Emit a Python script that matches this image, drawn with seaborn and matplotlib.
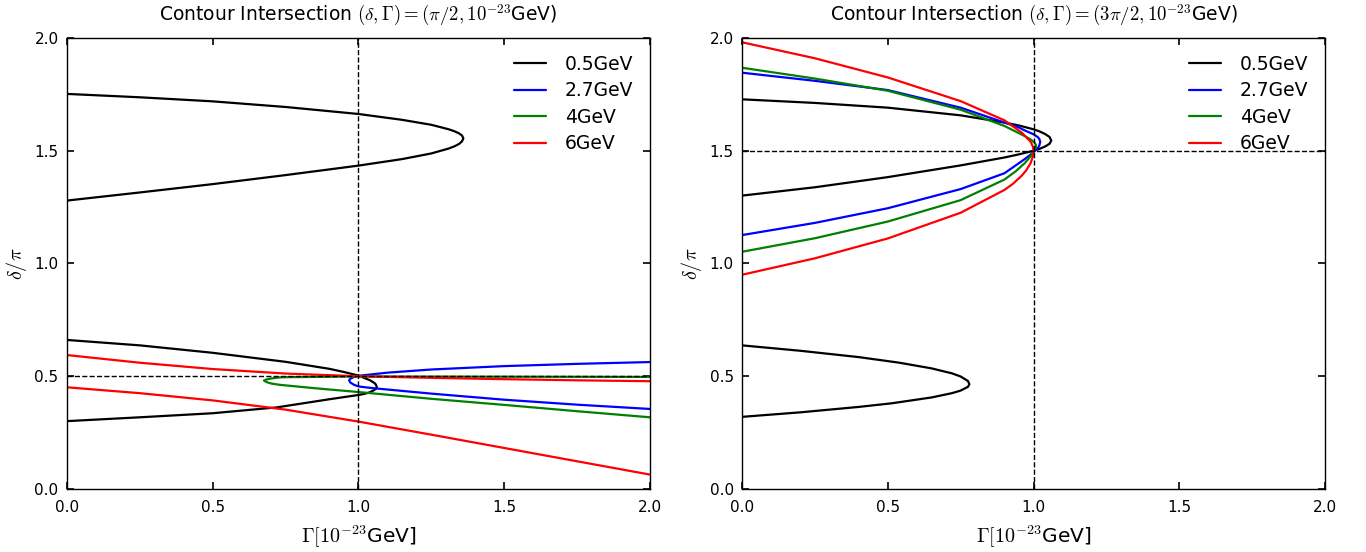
"""
Contour intersection plots (two panels)
"""
import matplotlib
matplotlib.use('Agg')
import matplotlib.pyplot as plt
import seaborn as sns

# ---- data ----
energies = ['0.5GeV', '2.7GeV', '4GeV', '6GeV']
colors = ['black', 'blue', 'green', 'red']

# left panel: (delta, Gamma) = (pi/2, 1e-23 GeV)
l_black_a_x = [0, 0.25, 0.5, 0.75, 1.0, 1.15, 1.25, 1.31, 1.33, 1.345, 1.355, 1.36,
               1.355, 1.345, 1.33, 1.31, 1.25, 1.15, 1.0, 0.75, 0.5, 0.25, 0]
l_black_a_y = [1.752, 1.737, 1.719, 1.694, 1.663, 1.637, 1.615, 1.595, 1.586, 1.577, 1.568, 1.555,
               1.541, 1.530, 1.520, 1.510, 1.488, 1.463, 1.434, 1.392, 1.352, 1.315, 1.279]
l_black_b_x = [0, 0.25, 0.5, 0.75, 0.9, 0.95, 1.0, 1.04, 1.055, 1.06, 1.063,
               1.06, 1.05, 1.035, 1.02, 1.0, 0.9, 0.72, 0.5, 0.25, 0]
l_black_b_y = [0.661, 0.637, 0.604, 0.564, 0.533, 0.519, 0.503, 0.482, 0.470, 0.463, 0.452,
               0.444, 0.436, 0.427, 0.422, 0.417, 0.398, 0.362, 0.336, 0.318, 0.301]
l_blue_x = [2.0, 1.75, 1.5, 1.25, 1.1, 1.0, 0.985, 0.972, 0.968, 0.972, 0.985, 1.0, 1.03, 1.06, 1.25, 1.5, 1.75, 2.0]
l_blue_y = [0.563, 0.555, 0.545, 0.530, 0.516, 0.502, 0.497, 0.489, 0.482, 0.4725, 0.462, 0.455, 0.450, 0.446, 0.423, 0.396, 0.374, 0.355]
l_green_x = [2.0, 1.5, 1.0, 0.85, 0.76, 0.73, 0.70, 0.685, 0.676, 0.685, 0.70, 0.73, 0.85, 1.0, 1.25, 1.5, 1.75, 2.0]
l_green_y = [0.497, 0.498, 0.499, 0.497, 0.496, 0.495, 0.490, 0.486, 0.481, 0.474, 0.468, 0.462, 0.447, 0.430, 0.400, 0.373, 0.345, 0.318]
l_red_a_x = [0, 0.25, 0.5, 0.75, 1.0, 1.25, 1.5, 1.75, 2.0]
l_red_a_y = [0.594, 0.560, 0.532, 0.512, 0.500, 0.493, 0.487, 0.482, 0.478]
l_red_b_x = [0, 0.25, 0.5, 0.75, 1.0, 1.25, 1.5, 1.75, 2.0]
l_red_b_y = [0.451, 0.425, 0.393, 0.352, 0.299, 0.241, 0.182, 0.123, 0.064]

# right panel: (delta, Gamma) = (3pi/2, 1e-23 GeV)
r_black_a_x = [0, 0.25, 0.5, 0.75, 0.9, 0.95, 1.0, 1.02, 1.04, 1.055, 1.061,
               1.055, 1.04, 1.02, 1.0, 0.95, 0.9, 0.75, 0.5, 0.25, 0]
r_black_a_y = [1.728, 1.712, 1.691, 1.657, 1.625, 1.612, 1.595, 1.586, 1.574, 1.561, 1.545,
               1.531, 1.519, 1.508, 1.500, 1.484, 1.470, 1.435, 1.383, 1.338, 1.301]
r_black_b_x = [0, 0.2, 0.4, 0.54, 0.65, 0.72, 0.75, 0.775, 0.78,
               0.775, 0.75, 0.72, 0.65, 0.513, 0.4, 0.2, 0]
r_black_b_y = [0.637, 0.613, 0.585, 0.560, 0.535, 0.513, 0.499, 0.479, 0.465,
               0.453, 0.4365, 0.425, 0.406, 0.380, 0.364, 0.340, 0.320]
r_blue_x = [0, 0.25, 0.5, 0.75, 0.9, 0.95, 0.97, 1.0, 1.015, 1.02, 1.023,
            1.02, 1.015, 1.0, 0.97, 0.95, 0.9, 0.75, 0.5, 0.25, 0]
r_blue_y = [1.846, 1.810, 1.769, 1.691, 1.625, 1.603, 1.590, 1.573, 1.560, 1.552, 1.540,
            1.523, 1.512, 1.493, 1.463, 1.445, 1.400, 1.330, 1.245, 1.180, 1.126]
r_green_x = [0, 0.25, 0.5, 0.75, 0.9, 0.97, 0.99, 1.003, 1.009,
             1.007, 1.0, 0.99, 0.97, 0.94, 0.9, 0.75, 0.5, 0.25, 0]
r_green_y = [1.868, 1.820, 1.766, 1.682, 1.610, 1.565, 1.550, 1.537, 1.524,
             1.512, 1.497, 1.475, 1.445, 1.410, 1.372, 1.281, 1.186, 1.112, 1.052]
r_red_x = [0, 0.25, 0.5, 0.75, 0.9, 0.96, 0.99, 0.998, 1.0,
           0.998, 0.99, 0.975, 0.96, 0.93, 0.9, 0.75, 0.5, 0.25, 0]
r_red_y = [1.981, 1.910, 1.825, 1.720, 1.635, 1.580, 1.540, 1.518, 1.500,
           1.475, 1.445, 1.413, 1.390, 1.354, 1.326, 1.225, 1.111, 1.023, 0.950]

xticks = [0.0, 0.5, 1.0, 1.5, 2.0]
yticks = [0.0, 0.5, 1.0, 1.5, 2.0]

sns.set_style("ticks")
plt.rcParams['font.family'] = ['DejaVu Sans']
plt.rcParams['mathtext.fontset'] = 'cm'
plt.rcParams['xtick.direction'] = 'in'
plt.rcParams['ytick.direction'] = 'in'
for key in ['text.color', 'axes.labelcolor', 'xtick.color', 'ytick.color', 'axes.edgecolor']:
    plt.rcParams[key] = 'black'

left_curves = [
    (l_black_a_x, l_black_a_y, 0), (l_black_b_x, l_black_b_y, 0),
    (l_blue_x, l_blue_y, 1), (l_green_x, l_green_y, 2),
    (l_red_a_x, l_red_a_y, 3), (l_red_b_x, l_red_b_y, 3),
]
right_curves = [
    (r_black_a_x, r_black_a_y, 0), (r_black_b_x, r_black_b_y, 0),
    (r_blue_x, r_blue_y, 1), (r_green_x, r_green_y, 2),
    (r_red_x, r_red_y, 3),
]

fig = plt.figure(figsize=(13.66, 5.52), dpi=100)
ax1 = fig.add_axes([0.049, 0.1141, 0.4268, 0.8171])
ax2 = fig.add_axes([0.5432, 0.1141, 0.4268, 0.8171])

panels = [
    (ax1, left_curves, 0.5, r'Contour Intersection $(\delta,\Gamma)=(\pi/2,10^{-23}$GeV)'),
    (ax2, right_curves, 1.5, r'Contour Intersection $(\delta,\Gamma)=(3\pi/2,10^{-23}$GeV)'),
]

for ax, curves, y0, title in panels:
    seen = set()
    for xs, ys, idx in curves:
        lab = energies[idx] if idx not in seen else None
        seen.add(idx)
        sns.lineplot(x=xs, y=ys, sort=False, estimator=None, color=colors[idx],
                     linewidth=1.6, label=lab, ax=ax, legend=False)
    ax.axvline(1.0, color='black', linestyle='--', linewidth=1)
    ax.axhline(y0, color='black', linestyle='--', linewidth=1)
    ax.set_xlim(0, 2)
    ax.set_ylim(0, 2)
    ax.set_xticks(xticks)
    ax.set_yticks(yticks)
    ax.tick_params(which='both', top=True, right=True, length=5, width=1.2, labelsize=11)
    ax.tick_params(axis='x', pad=8)
    ax.tick_params(axis='y', pad=6)
    for s in ax.spines.values():
        s.set_linewidth(1)
    ax.set_xlabel(r'$\Gamma[10^{-23}$GeV]', fontsize=14.5, labelpad=6)
    ax.set_ylabel(r'$\delta/\pi$', fontsize=14.5)
    ax.set_title(title, fontsize=13.5, pad=12)
    handles, labels = ax.get_legend_handles_labels()
    order = [labels.index(e) for e in energies]
    ax.legend([handles[i] for i in order], [labels[i] for i in order],
              loc='upper right', frameon=False, fontsize=13.5, handlelength=1.7,
              handletextpad=1.0, labelspacing=0.4)

fig.savefig('out.png', dpi=100)
